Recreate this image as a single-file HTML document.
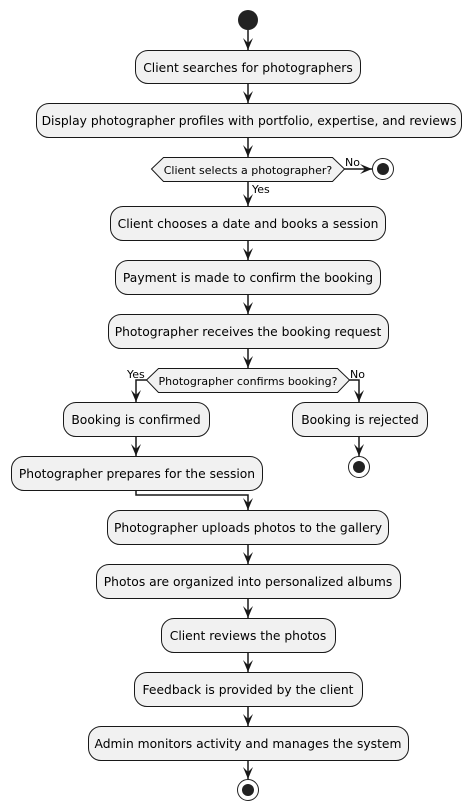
<!DOCTYPE html>
<html><head><meta charset="utf-8"><style>body{margin:0;background:#fff}svg{display:block}text{font-family:"DejaVu Sans","Liberation Sans",sans-serif;fill:#000}</style></head><body>
<svg width="470" height="812" viewBox="0 0 470 812" xmlns="http://www.w3.org/2000/svg">
<g stroke="#181818" stroke-width="1" fill="#F1F1F1">
<rect x="135.5" y="50.5" width="225" height="33" rx="12.5"/>
<rect x="36.5" y="103.5" width="425" height="34" rx="12.5"/>
<polygon points="151.5,169 163.5,157.5 332.5,157.5 344.5,169 332.5,181.5 163.5,181.5"/>
<rect x="110.5" y="206.5" width="275" height="34" rx="12.5"/>
<rect x="115.5" y="260.5" width="265" height="34" rx="12.5"/>
<rect x="108.5" y="314.5" width="280" height="34" rx="12.5"/>
<polygon points="146.5,380 158.5,368.5 337.5,368.5 349.5,380 337.5,392.5 158.5,392.5"/>
<rect x="63.5" y="402.5" width="146" height="34" rx="12.5"/>
<rect x="292.5" y="402.5" width="135" height="34" rx="12.5"/>
<rect x="11.5" y="456.5" width="251" height="34" rx="12.5"/>
<rect x="107.5" y="510.5" width="281" height="34" rx="12.5"/>
<rect x="96.5" y="564.5" width="304" height="34" rx="12.5"/>
<rect x="161.5" y="618.5" width="174" height="34" rx="12.5"/>
<rect x="134.5" y="672.5" width="228" height="34" rx="12.5"/>
<rect x="88.5" y="726.5" width="320" height="34" rx="12.5"/>
</g>
<circle cx="248" cy="20" r="10" fill="#222"/>
<g fill="none" stroke="#222"><circle cx="383" cy="169" r="10.5"/><circle cx="359" cy="467" r="10.5"/><circle cx="248" cy="790" r="10.5"/></g>
<g fill="#222"><circle cx="383" cy="169" r="6"/><circle cx="359" cy="467" r="6"/><circle cx="248" cy="790" r="6"/></g>
<g stroke="#181818" stroke-width="1.5" fill="none">
<path d="M248 30V50M248 84V103M248 138V157M248 182V206M248 241V260M248 295V314M248 349V368"/>
<path d="M344.5 169H372"/>
<path d="M146.5 380H136V402M349.5 380H359V402"/>
<path d="M136 437V456M359 437V456"/>
<path d="M136 491V495H248V510"/>
<path d="M248 545V564M248 599V618M248 653V672M248 707V726M248 761V779"/>
</g>
<g fill="#181818">
<path d="M243 38L248 50L253 38L248 43Z"/><path d="M243 91L248 103L253 91L248 96Z"/><path d="M243 145L248 157L253 145L248 150Z"/><path d="M243 194L248 206L253 194L248 199Z"/><path d="M243 248L248 260L253 248L248 253Z"/><path d="M243 302L248 314L253 302L248 307Z"/><path d="M243 356L248 368L253 356L248 361Z"/>
<path d="M360 164L372 169L360 174L365 169Z"/>
<path d="M131 390L136 402L141 390L136 395Z"/><path d="M354 390L359 402L364 390L359 395Z"/>
<path d="M131 444L136 456L141 444L136 449Z"/><path d="M354 444L359 456L364 444L359 449Z"/>
<path d="M243 498L248 510L253 498L248 503Z"/><path d="M243 552L248 564L253 552L248 557Z"/><path d="M243 606L248 618L253 606L248 611Z"/><path d="M243 660L248 672L253 660L248 665Z"/><path d="M243 714L248 726L253 714L248 719Z"/><path d="M243 767L248 779L253 767L248 772Z"/>
</g>
<g font-size="12.3" text-anchor="middle">
<text x="248" y="72">Client searches for photographers</text>
<text x="249" y="125">Display photographer profiles with portfolio, expertise, and reviews</text>
<text x="248" y="228">Client chooses a date and books a session</text>
<text x="248" y="282">Payment is made to confirm the booking</text>
<text x="248" y="336">Photographer receives the booking request</text>
<text x="136" y="424">Booking is confirmed</text>
<text x="360" y="424">Booking is rejected</text>
<text x="137" y="478">Photographer prepares for the session</text>
<text x="248" y="532">Photographer uploads photos to the gallery</text>
<text x="248" y="586">Photos are organized into personalized albums</text>
<text x="248" y="640">Client reviews the photos</text>
<text x="248" y="694">Feedback is provided by the client</text>
<text x="248" y="748">Admin monitors activity and manages the system</text>
</g>
<g font-size="11">
<text x="248" y="174" text-anchor="middle">Client selects a photographer?</text>
<text x="248" y="385" text-anchor="middle">Photographer confirms booking?</text>
<text x="345" y="166">No</text>
<text x="252" y="193">Yes</text>
<text x="127" y="378">Yes</text>
<text x="350" y="378">No</text>
</g>
</svg>
</body></html>
